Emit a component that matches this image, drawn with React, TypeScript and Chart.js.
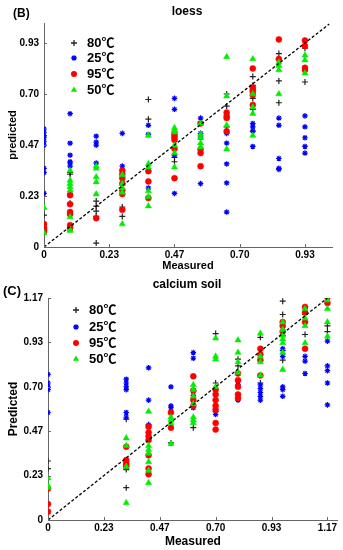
import React, { useEffect, useRef } from 'react';
import { Chart, registerables } from 'chart.js';

Chart.register(...registerables);

const seriesNames = ['80℃', '25℃', '95℃', '50℃'];

// ---- (B) loess ----
const loessX = [0, 0.0933, 0.1867, 0.28, 0.3733, 0.4667, 0.56, 0.6533, 0.7467, 0.84, 0.9333];
const loess80 = [
  [0.146],
  [0.34, 0.333, 0.245, 0.2, 0.09],
  [0.21, 0.187, 0.164, 0.14, 0.018],
  [0.183, 0.14],
  [0.675, 0.585],
  [0.41, 0.39],
  [0.57],
  [0.7, 0.645, 0.55],
  [0.78, 0.74, 0.68, 0.63, 0.53],
  [0.885, 0.86, 0.76, 0.66],
  [0.91, 0.755],
];
const loess25 = [
  [0.54, 0.525, 0.51, 0.5, 0.484, 0.466, 0.36, 0.34, 0.245],
  [0.61, 0.475, 0.42, 0.39, 0.385, 0.37],
  [0.507, 0.48, 0.466, 0.384],
  [0.52, 0.37],
  [0.557, 0.515, 0.27],
  [0.68, 0.63, 0.42, 0.245],
  [0.59, 0.52, 0.5, 0.29],
  [0.525, 0.52, 0.475, 0.38, 0.293, 0.16],
  [0.565, 0.55, 0.53, 0.46],
  [0.59, 0.557, 0.405, 0.36, 0.355],
  [0.6, 0.55, 0.5, 0.46, 0.43],
];
const loess95 = [
  [0.105, 0.09, 0.08, 0.07],
  [0.237, 0.196, 0.16, 0.15, 0.1, 0.087],
  [0.132],
  [0.35, 0.333, 0.315, 0.29, 0.26, 0.242, 0.17],
  [0.347, 0.3, 0.224],
  [0.52, 0.51, 0.5, 0.49, 0.45, 0.315],
  [0.565, 0.447, 0.43, 0.37],
  [0.615, 0.6, 0.59, 0.53],
  [0.817, 0.73, 0.72, 0.71, 0.695, 0.65],
  [0.95, 0.86],
  [0.945, 0.92, 0.82, 0.81],
];
const loess50 = [
  [0.18, 0.064],
  [0.35, 0.305, 0.29, 0.275, 0.26, 0.137, 0.078, 0.075],
  [0.37, 0.36, 0.32, 0.297, 0.242],
  [0.33, 0.29, 0.27, 0.25, 0.105],
  [0.51, 0.38, 0.365, 0.256, 0.23, 0.187],
  [0.545, 0.535, 0.525, 0.465, 0.43, 0.365],
  [0.565, 0.515, 0.5, 0.475, 0.457],
  [0.87, 0.69, 0.557, 0.448],
  [0.86, 0.7, 0.64, 0.61, 0.51],
  [0.845, 0.83, 0.81, 0.7],
  [0.877, 0.855, 0.795],
];
const loessTicks = [0, 0.2333, 0.4667, 0.7, 0.9333];
const loessTickLabels = ['0', '0.23', '0.47', '0.70', '0.93'];
const loessDiag = [0, 1.02];

// ---- (C) calcium soil ----
const calciumX = [0, 0.3267, 0.42, 0.5133, 0.6067, 0.7, 0.7933, 0.8867, 0.98, 1.0733, 1.1667];
const calcium80 = [
  [0.31, 0.27],
  [0.53, 0.31, 0.265, 0.17],
  [0.5],
  [0.405],
  [0.485],
  [0.98, 0.72, 0.57],
  [0.845, 0.81],
  [0.96, 0.72],
  [1.15, 1.08, 0.97, 0.89, 0.84],
  [1.08, 0.975],
  [1.02, 0.99],
];
const calcium25 = [
  [0.765, 0.72, 0.7, 0.685, 0.565],
  [0.74, 0.72, 0.7, 0.685, 0.565, 0.54],
  [0.8, 0.63, 0.5],
  [0.7, 0.6, 0.59],
  [0.88, 0.85, 0.655, 0.59],
  [0.555],
  [0.73, 0.71, 0.63],
  [0.71, 0.69, 0.67, 0.65, 0.63],
  [0.9, 0.86, 0.7, 0.685, 0.65],
  [0.86, 0.835, 0.77],
  [0.94, 0.81, 0.785, 0.72, 0.605],
];
const calcium95 = [
  [0.165, 0.084, 0.044],
  [0.385, 0.315, 0.3, 0.29, 0.28],
  [0.49, 0.46, 0.44, 0.42, 0.34, 0.27, 0.24],
  [0.565, 0.485],
  [0.755, 0.68, 0.63, 0.6],
  [0.685, 0.66, 0.63, 0.6, 0.58, 0.51, 0.475],
  [0.77, 0.735, 0.7, 0.66, 0.64],
  [0.9, 0.87, 0.84, 0.76],
  [1.04, 1.02, 0.99],
  [1.12, 1.09, 1.04, 0.9],
  [1.17, 1.14],
];
const calcium50 = [
  [0.22, 0.18, 0.17],
  [0.43, 0.39, 0.28, 0.09],
  [0.57, 0.39, 0.37, 0.35, 0.305, 0.26, 0.195],
  [0.54, 0.525, 0.51, 0.4],
  [0.71, 0.685, 0.65, 0.61, 0.54, 0.525, 0.51],
  [0.955, 0.86, 0.845, 0.7],
  [0.945, 0.88, 0.83, 0.775],
  [0.98, 0.86, 0.83, 0.76],
  [1.04, 1.0, 0.97, 0.95, 0.93, 0.88, 0.79],
  [1.11, 1.06, 1.02, 0.93],
  [1.155, 1.11, 1.04, 0.965],
];
const calciumTicks = [0, 0.2333, 0.4667, 0.7, 0.9333, 1.1667];
const calciumTickLabels = ['0', '0.23', '0.47', '0.70', '0.93', '1.17'];
const calciumDiag = [0, 1.1667];

// ---- styling ----
const seriesColors = ['#222222', '#0000ff', '#ff0000', '#00ee00'];
const seriesShapes = ['cross', 'star', 'circle', 'triangle'];
const seriesRadius = [3, 2.8, 3, 3.6];
const FONT = '"Liberation Sans", Arial, "Noto Sans CJK SC", sans-serif';

function drawMarker(ctx: CanvasRenderingContext2D, shape: string, color: string, x: number, y: number, r: number) {
  ctx.save();
  ctx.fillStyle = color;
  ctx.strokeStyle = color;
  ctx.lineWidth = 1.3;
  ctx.beginPath();
  if (shape === 'cross') {
    ctx.moveTo(x - r, y); ctx.lineTo(x + r, y);
    ctx.moveTo(x, y - r); ctx.lineTo(x, y + r);
    ctx.stroke();
  } else if (shape === 'star') {
    const d = r * 0.7071;
    ctx.moveTo(x - r, y); ctx.lineTo(x + r, y);
    ctx.moveTo(x, y - r); ctx.lineTo(x, y + r);
    ctx.moveTo(x - d, y - d); ctx.lineTo(x + d, y + d);
    ctx.moveTo(x - d, y + d); ctx.lineTo(x + d, y - d);
    ctx.stroke();
  } else if (shape === 'circle') {
    ctx.arc(x, y, r, 0, Math.PI * 2);
    ctx.fill();
  } else {
    const a = Math.PI * 2 / 3;
    for (let k = 0; k < 3; k++) {
      const ang = k * a;
      const px = x + Math.sin(ang) * r;
      const py = y - Math.cos(ang) * r;
      if (k === 0) ctx.moveTo(px, py); else ctx.lineTo(px, py);
    }
    ctx.closePath();
    ctx.fill();
  }
  ctx.restore();
}

type PanelProps = {
  title: string;
  panel: string;
  yTitle: string;
  xs: number[];
  series: number[][][];
  xMax: number;
  yMax: number;
  xTicks: number[];
  xTickLabels: string[];
  yTicks: number[];
  yTickLabels: string[];
  diag: number[];
  look: {
    height: number;
    yAxisWidth: number;
    xAxisHeight: number;
    padRight: number;
    padTop: number;
    titleX: number;
    titleY: number;
    panelX: number;
    panelY: number;
    panelFont: number;
    axisTitleFont: number;
    xTitlePadBottom: number;
    yTitlePadTop: number;
    legendMarkerX: number;
    legendTextX: number;
    legendRows: number[];
  };
};

function Panel(p: PanelProps) {
  const ref = useRef<HTMLCanvasElement>(null);
  useEffect(() => {
    if (!ref.current) return;
    const L = p.look;
    const datasets: any[] = p.series.map((cols, i) => ({
      type: 'scatter',
      label: seriesNames[i],
      data: p.xs.flatMap((x, c) => cols[c].map((y) => ({ x, y }))),
      pointStyle: seriesShapes[i],
      pointRadius: seriesRadius[i],
      backgroundColor: seriesColors[i],
      borderColor: seriesColors[i],
      borderWidth: i < 2 ? 1.2 : 0.5,
      order: 4 - i,
    }));
    datasets.push({
      type: 'line',
      label: 'diag',
      data: p.diag.map((v) => ({ x: v, y: v })),
      borderColor: '#000',
      borderWidth: 1.3,
      borderDash: [3, 2],
      pointRadius: 0,
      fill: false,
      order: 0,
    });

    const decor = {
      id: 'decor',
      afterDraw(chart: any) {
        const ctx: CanvasRenderingContext2D = chart.ctx;
        const { left, bottom } = chart.chartArea;
        const xs = chart.scales.x;
        const ys = chart.scales.y;
        ctx.save();
        ctx.strokeStyle = '#666';
        ctx.lineWidth = 1;
        xs.ticks.forEach((t: any) => {
          const px = Math.round(xs.getPixelForValue(t.value)) + 0.5;
          ctx.beginPath(); ctx.moveTo(px, bottom); ctx.lineTo(px, bottom - 3); ctx.stroke();
        });
        ys.ticks.forEach((t: any) => {
          const py = Math.round(ys.getPixelForValue(t.value)) + 0.5;
          ctx.beginPath(); ctx.moveTo(left, py); ctx.lineTo(left + 3, py); ctx.stroke();
        });
        ctx.fillStyle = '#000';
        ctx.textBaseline = 'middle';
        ctx.textAlign = 'center';
        ctx.font = `bold 12px ${FONT}`;
        ctx.fillText(p.title, L.titleX, L.titleY);
        ctx.textAlign = 'left';
        ctx.font = `bold ${L.panelFont}px ${FONT}`;
        ctx.fillText(p.panel, L.panelX, L.panelY);
        ctx.font = `bold 13px ${FONT}`;
        seriesNames.forEach((name, i) => {
          const y = L.legendRows[i];
          drawMarker(ctx, seriesShapes[i], seriesColors[i], L.legendMarkerX, y, seriesRadius[i]);
          ctx.fillStyle = '#000';
          ctx.fillText(name, L.legendTextX, y + 0.5);
        });
        ctx.restore();
      },
    };

    const tickFont = { size: 10, weight: 'bold' as const, family: FONT };
    const titleFont = { size: L.axisTitleFont, weight: 'bold' as const, family: FONT };
    const chart = new Chart(ref.current, {
      type: 'scatter',
      data: { datasets },
      options: {
        responsive: false,
        animation: false,
        events: [],
        layout: { padding: { top: L.padTop, right: L.padRight, bottom: 0, left: 0 } },
        plugins: {
          legend: { display: false },
          tooltip: { enabled: false },
          title: { display: false },
        },
        scales: {
          x: {
            type: 'linear',
            min: 0,
            max: p.xMax,
            afterBuildTicks: (s: any) => { s.ticks = p.xTicks.map((v) => ({ value: v })); },
            afterFit: (s: any) => { s.height = L.xAxisHeight; },
            ticks: {
              autoSkip: false,
              maxRotation: 0,
              padding: 2,
              color: '#000',
              font: tickFont,
              callback: (_v: any, i: number) => p.xTickLabels[i],
            },
            grid: { display: false, drawTicks: false },
            border: { display: true, color: '#666', width: 1 },
            title: {
              display: true,
              text: 'Measured',
              color: '#000',
              font: titleFont,
              padding: { top: 0, bottom: L.xTitlePadBottom },
            },
          },
          y: {
            type: 'linear',
            min: 0,
            max: p.yMax,
            afterBuildTicks: (s: any) => { s.ticks = p.yTicks.map((v) => ({ value: v })); },
            afterFit: (s: any) => { s.width = L.yAxisWidth; },
            ticks: {
              autoSkip: false,
              padding: 5,
              color: '#000',
              font: tickFont,
              callback: (_v: any, i: number) => p.yTickLabels[i],
            },
            grid: { display: false, drawTicks: false },
            border: { display: true, color: '#666', width: 1 },
            title: {
              display: true,
              text: p.yTitle,
              color: '#000',
              font: titleFont,
              padding: { top: L.yTitlePadTop, bottom: 0 },
            },
          },
        },
      },
      plugins: [decor],
    } as any);
    return () => chart.destroy();
  }, []);
  return (
    <canvas
      ref={ref}
      width={343}
      height={p.look.height}
      style={{ display: 'block', width: 343, height: p.look.height }}
    />
  );
}

export default function App() {
  return (
    <div style={{ position: 'absolute', left: 0, top: 0, width: 343, height: 550, background: '#fff' }}>
      <Panel
        title="loess"
        panel="(B)"
        yTitle="predicted"
        xs={loessX}
        series={[loess80, loess25, loess95, loess50]}
        xMax={1.03}
        yMax={1.025}
        xTicks={loessTicks}
        xTickLabels={loessTickLabels}
        yTicks={loessTicks}
        yTickLabels={loessTickLabels}
        diag={loessDiag}
        look={{
          height: 275,
          yAxisWidth: 44,
          xAxisHeight: 28,
          padRight: 11,
          padTop: 23,
          titleX: 187,
          titleY: 12,
          panelX: 13,
          panelY: 14,
          panelFont: 12,
          axisTitleFont: 11,
          xTitlePadBottom: 2,
          yTitlePadTop: 6,
          legendMarkerX: 74,
          legendTextX: 87,
          legendRows: [43, 58, 74, 90],
        }}
      />
      <Panel
        title="calcium soil"
        panel="(C)"
        yTitle="Predicted"
        xs={calciumX}
        series={[calcium80, calcium25, calcium95, calcium50]}
        xMax={1.21}
        yMax={1.1667}
        xTicks={calciumTicks}
        xTickLabels={calciumTickLabels}
        yTicks={calciumTicks}
        yTickLabels={calciumTickLabels}
        diag={calciumDiag}
        look={{
          height: 275,
          yAxisWidth: 48,
          xAxisHeight: 30,
          padRight: 5,
          padTop: 23,
          titleX: 187,
          titleY: 10,
          panelX: 3,
          panelY: 16,
          panelFont: 13,
          axisTitleFont: 12,
          xTitlePadBottom: 1,
          yTitlePadTop: 6,
          legendMarkerX: 76,
          legendTextX: 89,
          legendRows: [35, 52, 68, 84],
        }}
      />
    </div>
  );
}
